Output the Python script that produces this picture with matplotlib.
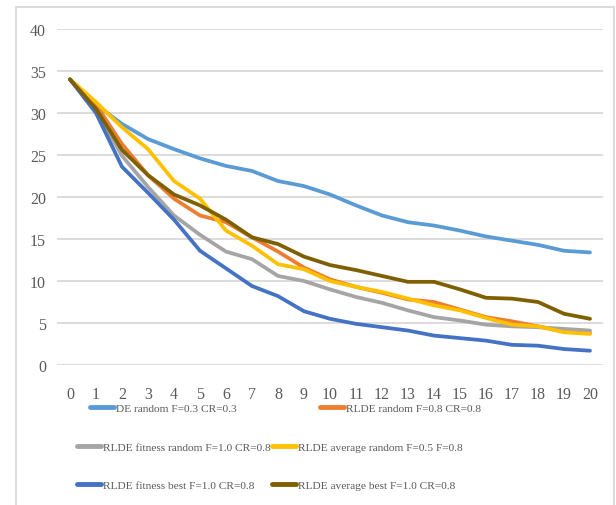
import matplotlib.pyplot as plt
from matplotlib.lines import Line2D
from matplotlib.patches import Rectangle

# generations 0..20
gens = list(range(21))

de_random = [34, 31.0, 28.7, 26.9, 25.7, 24.6, 23.7, 23.1, 21.9, 21.3, 20.3,
             19.0, 17.8, 17.0, 16.6, 16.0, 15.3, 14.8, 14.3, 13.6, 13.4]
rlde_random = [34, 31.0, 26.3, 22.6, 19.8, 17.8, 17.0, 15.2, 13.5, 11.6, 10.2,
               9.3, 8.6, 7.8, 7.5, 6.6, 5.7, 5.2, 4.6, 4.0, 3.8]
rlde_fit_random = [34, 30.5, 24.9, 21.2, 17.8, 15.5, 13.5, 12.6, 10.6, 10.0, 9.0,
                   8.1, 7.4, 6.5, 5.7, 5.3, 4.8, 4.6, 4.5, 4.3, 4.1]
rlde_avg_random = [34, 31.3, 28.3, 25.7, 21.9, 19.8, 16.0, 14.2, 12.0, 11.4, 10.0,
                   9.3, 8.7, 7.9, 7.1, 6.5, 5.6, 4.8, 4.6, 3.9, 3.7]
rlde_fit_best = [34, 30.0, 23.6, 20.5, 17.3, 13.6, 11.5, 9.4, 8.2, 6.4, 5.5,
                 4.9, 4.5, 4.1, 3.5, 3.2, 2.9, 2.4, 2.3, 1.9, 1.7]
rlde_avg_best = [34, 30.5, 25.6, 22.6, 20.3, 19.0, 17.3, 15.2, 14.4, 12.9, 11.9,
                 11.3, 10.6, 9.9, 9.9, 9.0, 8.0, 7.9, 7.5, 6.1, 5.5]

labels = ['DE random F=0.3 CR=0.3', 'RLDE random F=0.8 CR=0.8',
          'RLDE fitness random F=1.0 CR=0.8', 'RLDE average random F=0.5 F=0.8',
          'RLDE fitness best F=1.0 CR=0.8', 'RLDE average best F=1.0 CR=0.8']
colors = ['#5B9BD5', '#ED7D31', '#A5A5A5', '#FFC000', '#4472C4', '#7F6000']
series = [de_random, rlde_random, rlde_fit_random, rlde_avg_random,
          rlde_fit_best, rlde_avg_best]

plt.rcParams['font.family'] = ['Liberation Serif', 'DejaVu Serif']
txt_color = '#595959'

W, H = 616, 506
fig = plt.figure(figsize=(W / 100, H / 100), dpi=100)
ax = fig.add_axes([57 / W, 140 / H, (603 - 57) / W, (366 - 30) / H])

for ys, c in zip(series, colors):
    ax.plot(gens, ys, color=c, lw=2.7, solid_capstyle='round', solid_joinstyle='round')

ax.set_xlim(-0.5, 20.5)
ax.set_ylim(0, 40)
ax.set_xticks(gens)
ax.set_yticks(range(0, 41, 5))
ax.yaxis.grid(True, color='#D9D9D9', lw=1.3)
ax.set_axisbelow(True)
for s in ax.spines.values():
    s.set_visible(False)
ax.tick_params(length=0, labelsize=11.5, colors=txt_color)
ax.tick_params(axis='x', pad=15)
ax.tick_params(axis='y', pad=8)

# outer chart border
fig.add_artist(Rectangle((16 / W, -0.05), (614 - 16) / W, (H - 8) / H + 0.05,
                         transform=fig.transFigure, fill=False,
                         edgecolor='#D9D9D9', lw=1.3))

# legend entries, laid out like the Excel legend
legend_pos = [(84, 409), (314, 409), (71, 448), (266, 448), (71, 486), (266, 486)]
for (px, py), lab, c in zip(legend_pos, labels, colors):
    h = Line2D([], [], color=c, lw=3.5, solid_capstyle='round')
    fig.legend([h], [lab], loc='center left', bbox_to_anchor=(px / W, 1 - py / H),
               frameon=False, handlelength=2.1, handletextpad=0.2,
               borderpad=0, fontsize=8.2, labelcolor=txt_color)

fig.savefig('out.png', dpi=100)
